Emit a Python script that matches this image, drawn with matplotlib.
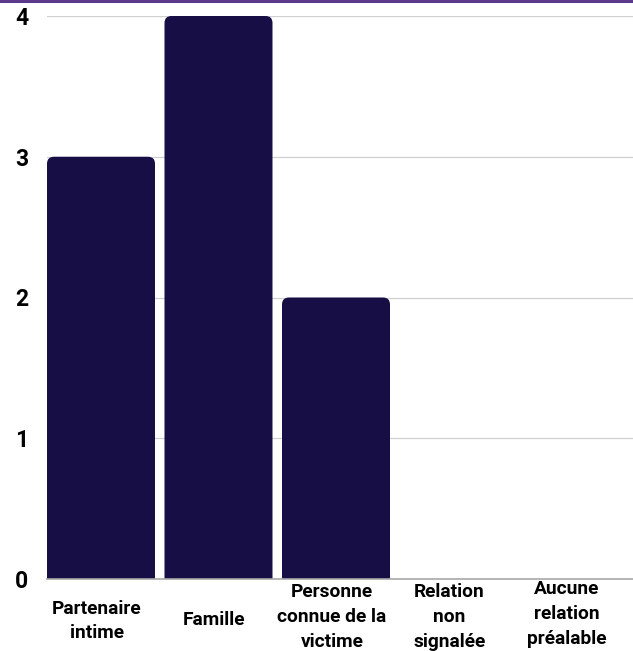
import matplotlib.pyplot as plt
from matplotlib.patches import FancyBboxPatch

categories = ["Partenaire\nintime", "Famille", "Personne\nconnue de la\nvictime",
              "Relation\nnon\nsignalée", "Aucune\nrelation\npréalable"]
values = [3, 4, 2, 0, 0]
yticks = [0, 1, 2, 3, 4]

bar_color = "#170e45"
W, H = 633, 651

fig = plt.figure(figsize=(W / 100, H / 100), dpi=100)
ax = fig.add_axes([47 / W, (H - 579) / H, 1 - 47 / W, (579 - 16) / H])

step = 117.5      # px per category
c0 = 101          # px centre of first bar
ax.set_xlim((47 - c0) / step, (W - c0) / step)
ax.set_ylim(0, 4)

bw = 108 / step
px_y = (579 - 16) / 4
r = 7 / step
for i, v in enumerate(values):
    if v <= 0:
        continue
    # box starts below 0 so only the top corners show rounded
    p = FancyBboxPatch((i - bw / 2, -0.2), bw, v + 0.2,
                       boxstyle=f"round,pad=0,rounding_size={r}",
                       mutation_aspect=step / px_y,
                       fc=bar_color, ec="none", zorder=3)
    ax.add_patch(p)

for t in yticks[1:]:
    ax.axhline(t, color="#d0d0d0", lw=0.9, zorder=1)
ax.axhline(0, color="#a8a8a8", lw=1.2, zorder=4, clip_on=False)

for s in ax.spines.values():
    s.set_visible(False)

ax.set_yticks(yticks)
ax.set_yticklabels([str(t) for t in yticks], fontsize=16.5, fontweight="bold",
                   family="Roboto")
ax.tick_params(axis="y", length=0, pad=13.5)
ax.set_xticks([])

lab_y = {0: 621, 1: 620, 2: 617, 3: 617, 4: 614}
for i, c in enumerate(categories):
    x_px = c0 + step * i - 4
    ax.text(x_px / W, (H - lab_y[i]) / H, c, ha="center",
            va="center", fontsize=13.8, fontweight="bold", family="Roboto",
            linespacing=1.5, transform=fig.transFigure)

# purple line along the top edge
fig.add_artist(plt.Line2D([0, 1], [1 - 1 / H, 1 - 1 / H], color="#5b3a8c",
                          lw=2.2, transform=fig.transFigure))

fig.savefig("out.png", dpi=100)
